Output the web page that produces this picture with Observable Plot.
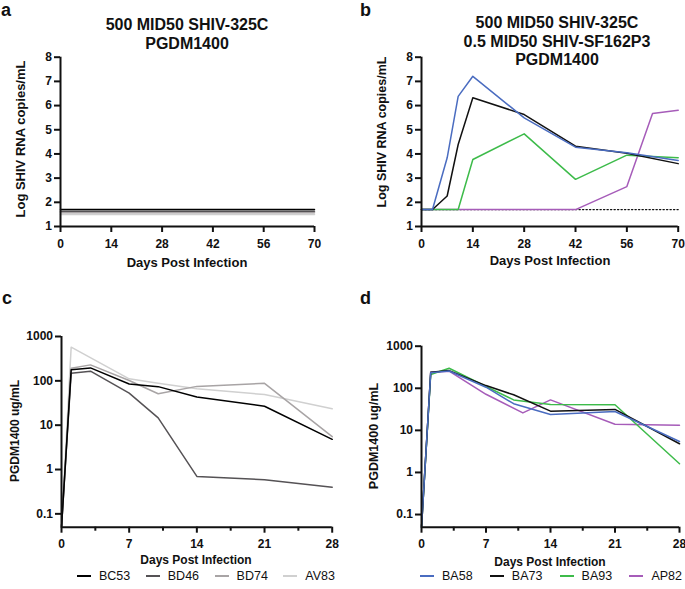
<!DOCTYPE html>
<html>
<head>
<meta charset="utf-8">
<script src="https://cdn.jsdelivr.net/npm/d3@7"></script>
<script src="https://cdn.jsdelivr.net/npm/@observablehq/plot@0.6"></script>
<style>
html,body{margin:0;padding:0;background:#fff;}
#root{position:relative;width:685px;height:589px;overflow:hidden;font-family:"Liberation Sans",Arial,sans-serif;color:#111;}
.panel{position:absolute;}
.panel svg{display:block;overflow:visible;}
.t{position:absolute;white-space:pre;line-height:1;}
.b{font-weight:bold;}
.legend{position:absolute;display:flex;justify-content:space-between;align-items:center;font-size:12.5px;line-height:1;}
.item{display:flex;align-items:center;}
.sw{display:inline-block;width:14px;height:2px;margin-right:8px;}
</style>
</head>
<body>
<div id="root"></div>
<script>
// ---------- Data ----------
// Panel a: 500 MID50 SHIV-325C, viral load (log copies/mL), all below detection
const aDays = [0, 3, 7, 10, 14, 28, 42, 56, 70];
const aBC53 = [1.7, 1.7, 1.7, 1.7, 1.7, 1.7, 1.7, 1.7, 1.7];
const aBD46 = [1.63, 1.63, 1.63, 1.63, 1.63, 1.63, 1.63, 1.63, 1.63];
const aBD74 = [1.57, 1.57, 1.57, 1.57, 1.57, 1.57, 1.57, 1.57, 1.57];
const aAV83 = [1.5, 1.5, 1.5, 1.5, 1.5, 1.5, 1.5, 1.5, 1.5];

// Panel b: 500 MID50 SHIV-325C + 0.5 MID50 SHIV-SF162P3
const bDays = [0, 3, 7, 10, 14, 28, 42, 56, 70];
const bBA58 = [1.7, 1.7, 3.84, 6.38, 7.21, 5.49, 4.28, 4.05, 3.73];
const bBA73 = [1.7, 1.7, 2.26, 4.39, 6.32, 5.63, 4.32, 4.03, 3.6];
const bBA93 = [1.7, 1.7, 1.7, 1.7, 3.77, 4.83, 2.95, 3.95, 3.84];
const bAP82Days = [0, 3, 7, 10, 14, 28, 42, 56, 63, 70];
const bAP82 = [1.7, 1.7, 1.7, 1.7, 1.7, 1.7, 1.7, 2.65, 5.67, 5.81];
const bLimitDays = [0, 70];
const bLimit = [1.7, 1.7];

// Panel c: PGDM1400 ug/mL
const cDays = [0, 1, 3, 7, 10, 14, 21, 28];
const cBC53 = [0.05, 177, 196, 85, 74, 43, 26.7, 4.8];
const cBD46 = [0.05, 149, 165, 53, 14.6, 0.7, 0.59, 0.4];
const cBD74 = [0.05, 193, 229, 102, 51, 75, 88, 5.5];
const cAV83Days = [0, 1, 7, 10, 14, 21, 28];
const cAV83 = [0.05, 575, 111, 88, 66, 49, 23.5];

// Panel d: PGDM1400 ug/mL
const dDays = [0, 1, 3, 7, 10, 14, 21, 28];
const dBA58 = [0.05, 233, 258, 106, 43, 23.9, 28, 5.45];
const dBA73 = [0.05, 240, 263, 116, 70, 28.6, 31.4, 4.8];
const dBA93 = [0.05, 212, 300, 110, 53, 41, 40.5, 1.61];
const dAP82Days = [0, 1, 3, 7, 11, 14, 21, 28];
const dAP82 = [0.05, 240, 255, 72, 26, 53, 14, 13.3];

// Ticks / labels
const vlXTicks = [0, 14, 28, 42, 56, 70];
const vlYTicks = [1, 2, 3, 4, 5, 6, 7, 8];
const pkXTicks = [0, 7, 14, 21, 28];
const pkXMinor = [3.5, 10.5, 17.5, 24.5];
const pkYTicks = [0.1, 1, 10, 100, 1000];
const greyNames = ["BC53", "BD46", "BD74", "AV83"];
const greyColors = ["#000000", "#555255", "#a8a4a5", "#d0d0d0"];
const colNames = ["BA58", "BA73", "BA93", "AP82"];
const colColors = ["#4a6cc0", "#111111", "#3dbb4a", "#a65cb9"];

// ---------- helpers ----------
const root = document.getElementById("root");
const rows = (days, vals) => days.map((d, i) => ({day: d, value: vals[i]}));
const plotStyle = {fontFamily: "'Liberation Sans', Arial, sans-serif", fontSize: "12px", fontWeight: "bold", color: "#111", background: "transparent", overflow: "visible"};

function addPanel(svg, left, top) {
  const d = document.createElement("div");
  d.className = "panel";
  d.style.left = left + "px";
  d.style.top = top + "px";
  d.appendChild(svg);
  root.appendChild(d);
}
function addText(str, cx, cy, size, bold, rotate) {
  const d = document.createElement("div");
  d.className = "t" + (bold ? " b" : "");
  d.textContent = str;
  d.style.fontSize = size + "px";
  d.style.left = cx + "px";
  d.style.top = cy + "px";
  d.style.transform = "translate(-50%,-50%)" + (rotate ? " rotate(-90deg)" : "");
  root.appendChild(d);
}
function addTitle(lines, cx, top) {
  const d = document.createElement("div");
  d.className = "t b";
  d.textContent = lines.join("\n");
  d.style.fontSize = "16px";
  d.style.lineHeight = "18.5px";
  d.style.textAlign = "center";
  d.style.left = cx + "px";
  d.style.top = top + "px";
  d.style.transform = "translateX(-50%)";
  root.appendChild(d);
}
function addLetter(ch, left, top) {
  const d = document.createElement("div");
  d.className = "t b";
  d.textContent = ch;
  d.style.fontSize = "18px";
  d.style.lineHeight = "20px";
  d.style.left = left + "px";
  d.style.top = top + "px";
  root.appendChild(d);
}
function addLegend(names, colors, left, width, top) {
  const lg = document.createElement("div");
  lg.className = "legend";
  lg.style.left = left + "px";
  lg.style.width = width + "px";
  lg.style.top = top + "px";
  names.forEach((n, i) => {
    const it = document.createElement("div");
    it.className = "item";
    const sw = document.createElement("span");
    sw.className = "sw";
    sw.style.background = colors[i];
    const tx = document.createElement("span");
    tx.textContent = n;
    it.appendChild(sw); it.appendChild(tx);
    lg.appendChild(it);
  });
  root.appendChild(lg);
}

function vlPlot(width, marginLeft, marginRight, lineMarks) {
  return Plot.plot({
    width, height: 260,
    marginLeft, marginRight, marginTop: 56.7, marginBottom: 34,
    style: plotStyle,
    x: {domain: [0, 70]},
    y: {domain: [1, 8]},
    marks: [
      ...lineMarks,
      Plot.ruleX([0], {strokeWidth: 2, stroke: "#111"}),
      Plot.ruleY([1], {strokeWidth: 2, stroke: "#111"}),
      Plot.axisX({ticks: vlXTicks, tickSize: 6, tickPadding: 7, strokeWidth: 2, label: null, tickFormat: d => String(d), fontWeight: "bold", fontSize: 12}),
      Plot.axisY({ticks: vlYTicks, tickSize: 6, tickPadding: 2.5, strokeWidth: 2, label: null, tickFormat: d => String(d), fontWeight: "bold", fontSize: 12})
    ]
  });
}
function pkPlot(width, marginLeft, marginRight, marginTop, lineMarks) {
  return Plot.plot({
    width, height: 260,
    marginLeft, marginRight, marginTop, marginBottom: 33.3,
    style: plotStyle,
    x: {domain: [0, 28]},
    y: {type: "log", domain: [0.05, 1000]},
    marks: [
      ...lineMarks,
      Plot.ruleX([0], {strokeWidth: 2, stroke: "#111"}),
      Plot.ruleY([0.05], {strokeWidth: 2, stroke: "#111"}),
      Plot.axisX({ticks: pkXTicks, tickSize: 6, tickPadding: 6.5, strokeWidth: 2, label: null, tickFormat: d => String(d), fontWeight: "bold", fontSize: 12}),
      Plot.axisX({ticks: pkXMinor, tickSize: 4, tickFormat: () => "", strokeWidth: 2, label: null}),
      Plot.axisY({ticks: pkYTicks, tickSize: 6, tickPadding: 2.5, strokeWidth: 2, label: null, tickFormat: d => String(d), fontWeight: "bold", fontSize: 12})
    ]
  });
}
const ln = (days, vals, color, w = 1.5) => Plot.line(rows(days, vals), {x: "day", y: "value", stroke: color, strokeWidth: w});

// ---------- Panel a ----------
addPanel(vlPlot(340, 60, 26, [
  ln(aDays, aAV83, greyColors[3]),
  ln(aDays, aBD74, greyColors[2]),
  ln(aDays, aBD46, greyColors[1]),
  ln(aDays, aBC53, greyColors[0])
]), 0, 0);

// ---------- Panel b ----------
addPanel(vlPlot(345, 81, 7.3, [
  Plot.line(rows(bLimitDays, bLimit), {x: "day", y: "value", stroke: "#111", strokeWidth: 1.3, strokeDasharray: "1.3,2.2"}),
  ln(bAP82Days, bAP82, colColors[3]),
  ln(bDays, bBA93, colColors[2]),
  ln(bDays, bBA73, colColors[1]),
  ln(bDays, bBA58, colColors[0])
]), 340, 0);

// ---------- Panel c ----------
addPanel(pkPlot(340, 61, 8.3, 36, [
  ln(cAV83Days, cAV83, greyColors[3]),
  ln(cDays, cBD74, greyColors[2]),
  ln(cDays, cBD46, greyColors[1]),
  ln(cDays, cBC53, greyColors[0])
]), 0, 300);

// ---------- Panel d ----------
addPanel(pkPlot(345, 81, 6, 45.7, [
  ln(dAP82Days, dAP82, colColors[3]),
  ln(dDays, dBA93, colColors[2]),
  ln(dDays, dBA73, colColors[1]),
  ln(dDays, dBA58, colColors[0])
]), 340, 300);

// ---------- Text ----------
addTitle(["500 MID50 SHIV-325C", "PGDM1400"], 187, 16);
addTitle(["500 MID50 SHIV-325C", "0.5 MID50 SHIV-SF162P3", "PGDM1400"], 557, 14);
addText("Log SHIV RNA copies/mL", 20, 139, 13, true, true);
addText("Log SHIV RNA copies/mL", 382, 132, 12.5, true, true);
addText("PGDM1400 ug/mL", 14.5, 431, 12, true, true);
addText("PGDM1400 ug/mL", 373.5, 435.5, 12.5, true, true);
addText("Days Post Infection", 187, 261.5, 13, true, false);
addText("Days Post Infection", 550, 260, 13, true, false);
addText("Days Post Infection", 196, 560, 12, true, false);
addText("Days Post Infection", 550, 561.5, 12, true, false);
addLetter("a", 1, 0);
addLetter("b", 360, 0);
addLetter("c", 2, 288);
addLetter("d", 360, 288);
addLegend(greyNames, greyColors, 77, 258, 570);
addLegend(colNames, colColors, 420, 262, 570);
</script>
</body>
</html>
